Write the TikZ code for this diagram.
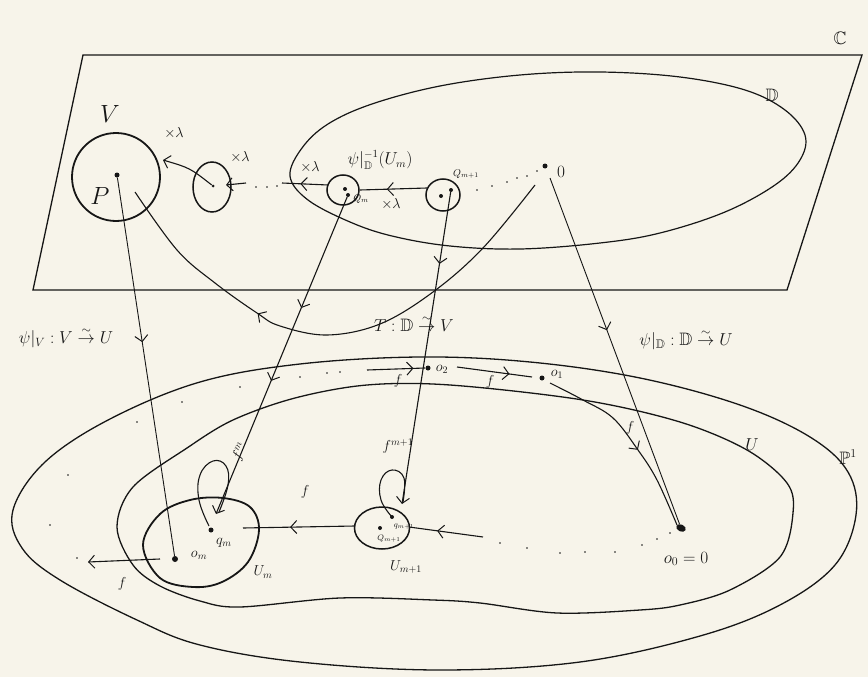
\documentclass[tikz,border=0pt]{standalone}
\usepackage{amssymb}
\usetikzlibrary{arrows.meta,decorations.markings,shapes.geometric}
\definecolor{paper}{RGB}{247,244,234}
\definecolor{ink}{RGB}{22,22,22}
\newcommand{\isoto}{\stackrel{\sim}{\to}}
\tikzset{
  barb/.tip={Straight Barb[length=6pt,width=13pt,line width=1pt]},
  cur/.style={draw=ink, line width=1.1pt},
  thk/.style={draw=ink, line width=1.8pt},
  midarrow/.style={postaction={decorate, decoration={markings, mark=at position #1 with {\arrow{barb}}}}},
  dotpt/.style={circle, fill=ink, inner sep=0pt, minimum size=5pt},
  tinypt/.style={circle, fill=ink, inner sep=0pt, minimum size=1.8pt},
  lab/.style={text=ink, inner sep=1pt, font=\fontsize{18}{20}\selectfont},
  big/.style={text=ink, inner sep=1pt, font=\fontsize{26}{28}\selectfont},
  mlab/.style={text=ink, inner sep=1pt, font=\fontsize{14}{16}\selectfont},
  slab/.style={text=ink, inner sep=1pt, font=\fontsize{10}{12}\selectfont},
}
\begin{document}
\begin{tikzpicture}[x=1pt,y=-1pt]
\fill[paper] (0,0) rectangle (868,677);
\useasboundingbox (0,0) rectangle (868,677);

% ---------- plane C ----------
\draw[cur, line width=1.3pt] (83,55) -- (862,55) -- (787,290) -- (33,290) -- cycle;
\node[lab] (Clab) at (840,38) {$\mathbb{C}$};

% ellipse D
\draw[cur, line width=1.2pt] plot[smooth cycle, tension=0.6] coordinates {
 (290,176) (302,148) (328,124) (372,104) (440,86) (520,75) (600,72) (680,77)
 (745,90) (785,110) (805,135) (800,160) (775,185) (725,212) (660,233) (600,243)
 (520,249) (450,246) (392,236) (350,222) (308,200)};
\node[lab] (Dlab) at (772,95) {$\mathbb{D}$};

% V and P
\node[draw=ink, line width=1.8pt, circle, minimum size=88pt, inner sep=0pt] (V) at (116,177) {};
\node[big] (Vlab) at (110,114) {$V$};
\node[dotpt] (P) at (117,175) {};
\node[big] (Plab) at (100,196) {$P$};

% small circle
\node[draw=ink, line width=1.5pt, ellipse, minimum width=38pt, minimum height=50pt, inner sep=0pt] (S) at (212,187) {};
\node[tinypt, minimum size=3pt] (s) at (213,186) {};
\coordinate (Vin) at (163,160);
\draw[cur, -{barb}] (s) .. controls (190,168) .. (Vin);
\node[mlab] (x1) at (174,133) {$\times\lambda$};

\coordinate (a1) at (246,183);
\coordinate (a2) at (226,185);
\draw[cur, -{barb}] (a1) -- (a2);
\node[mlab] (x2) at (240,157) {$\times\lambda$};
\node[tinypt] (d1) at (256,187) {};
\node[tinypt] (d2) at (267,187) {};
\node[tinypt] (d3) at (277,186) {};

% Q_m circle
\node[draw=ink, line width=1.5pt, ellipse, minimum width=32pt, minimum height=30pt, inner sep=0pt] (Qm) at (343,190) {};
\node[dotpt, minimum size=4pt] (qa) at (345,189) {};
\node[dotpt, minimum size=4pt] (Qmpt) at (348,195) {};
\node[slab] (Qmlab) at (361,199) {$Q_m$};
\node[mlab, font=\fontsize{16}{18}\selectfont] (psiinv) at (380,160) {$\psi|_{\mathbb{D}}^{-1}(U_m)$};
\coordinate (b1) at (328,185);
\coordinate (b2) at (282,183);
\draw[cur, midarrow=0.6] (b1) -- (b2);
\node[mlab] (x3) at (310,167) {$\times\lambda$};

% Q_{m+1} circle
\node[draw=ink, line width=1.5pt, ellipse, minimum width=34pt, minimum height=32pt, inner sep=0pt] (Qn) at (443,195) {};
\node[dotpt, minimum size=4pt] (qb) at (441,196) {};
\node[dotpt, minimum size=4pt] (Qnpt) at (451,190) {};
\node[slab] (Qnlab) at (466,174) {$Q_{m+1}$};
\coordinate (c1) at (427,188);
\coordinate (c2) at (360,190);
\draw[cur, midarrow=0.6] (c1) -- (c2);
\node[mlab] (x4) at (391,204) {$\times\lambda$};

% dotted toward 0
\foreach \p [count=\i] in {(477,190),(492,186),(507,182),(517,178),(527,176),(537,171)}
  \node[tinypt] (e\i) at \p {};
\node[dotpt] (zero) at (545,166) {};
\node[lab] (zerolab) at (561,172) {$0$};

% ---------- P^1 ----------
\draw[cur, line width=1.3pt] plot[smooth cycle, tension=0.6] coordinates {
 (13,510) (45,462) (110,419) (200,382) (300,364) (420,357) (530,362) (640,378)
 (740,405) (810,437) (848,472) (856,515) (835,565) (780,605) (700,636) (580,662)
 (440,670) (300,662) (200,645) (137,620) (60,580) (22,548)};
\node[lab] (P1lab) at (848,457) {$\mathbb{P}^1$};

% U
\draw[cur, line width=1.3pt] plot[smooth cycle, tension=0.55] coordinates {
 (793,513) (780,557) (730,590) (680,605) (640,610) (557,613) (480,603) (433,600)
 (340,598) (240,607) (200,601) (160,586) (133,565) (117,527) (133,487) (187,448)
 (233,420) (295,398) (367,385) (450,385) (583,400) (680,422) (747,450) (787,483)};
\node[lab] (Ulab) at (752,445) {$U$};

% U_m
\draw[thk] plot[smooth cycle, tension=0.6] coordinates {
 (143,545) (160,514) (190,500) (223,498) (250,507) (259,530) (248,562) (222,582)
 (193,587) (160,578)};
\node[mlab] (Umlab) at (263,572) {$U_m$};
\node[dotpt, minimum size=6pt] (om) at (175,559) {};
\node[mlab] (omlab) at (199,555) {$o_m$};
\node[dotpt] (qm) at (211,530) {};
\node[mlab] (qmlab) at (224,543) {$q_m$};

% U_{m+1}
\node[draw=ink, line width=1.5pt, ellipse, minimum width=55pt, minimum height=42pt, inner sep=0pt] (Un) at (382,528) {};
\node[mlab] (Unlab) at (406,567) {$U_{m+1}$};
\node[dotpt, minimum size=4pt] (Qnb) at (380,528) {};
\node[slab, font=\fontsize{8}{9}\selectfont] (Qnblab) at (389,539) {$Q_{m+1}$};
\node[dotpt, minimum size=4pt] (qn) at (392,517) {};
\node[slab, font=\fontsize{8}{9}\selectfont] (qnlab) at (404,527) {$q_{m+1}$};

% loops
\draw[cur] plot[smooth, tension=0.7] coordinates {(209,526) (199,500) (200,475) (213,461) (226,466) (228,485) (219,512)};
\draw[cur] plot[smooth, tension=0.7] coordinates {(392,517) (381,500) (381,480) (392,470) (404,478) (403,502)};
\node[mlab, rotate=65] (fmlab) at (240,452) {$f^m$};
\node[mlab] (fnlab) at (398,446) {$f^{m+1}$};

% vertical maps
\coordinate (qmend) at (216,514);
\draw[cur, midarrow=0.35, midarrow=0.58, -{barb}] (Qmpt) -- (qmend);
\coordinate (qnend) at (402,504);
\draw[cur, midarrow=0.23, -{barb}] (Qnpt) -- (qnend);
\draw[cur, line width=0.9pt, midarrow=0.435] (P) -- (om);
\coordinate (zs) at (550,178);
\node[fill=ink, ellipse, minimum width=10pt, minimum height=7pt, inner sep=0pt, rotate=-25] (o0) at (681,528) {};
\draw[cur, line width=0.9pt, midarrow=0.44] (zs) -- (o0);

% T curve
\draw[cur, midarrow=0.66] plot[smooth, tension=0.6] coordinates {
 (535,185) (483,248) (433,292) (380,324) (327,335) (280,326) (257,313) (215,283) (177,250) (135,192)};
\node[lab] (Tlab) at (414,323) {$T:\mathbb{D}\isoto V$};
\node[lab] (psiV) at (66,338) {$\psi|_V:V\isoto U$};
\node[lab] (psiD) at (686,340) {$\psi|_{\mathbb{D}}:\mathbb{D}\isoto U$};

% orbit in P^1
\foreach \p [count=\i] in {(240,387),(182,402),(137,422),(68,475),(50,525),(77,558),(300,377),(327,373),(340,372)}
  \node[tinypt] (g\i) at \p {};
\coordinate (f2s) at (367,370);
\coordinate (f2e) at (425,368);
\node[dotpt] (o2) at (428,368) {};
\draw[cur, midarrow=0.8] (f2s) -- (f2e);
\node[mlab] (o2lab) at (442,369) {$o_2$};
\node[mlab] (f2lab) at (398,381) {$f$};
\node[dotpt] (o1) at (542,378) {};
\coordinate (f1s) at (457,367);
\coordinate (f1e) at (532,377);
\draw[cur, midarrow=0.7] (f1s) -- (f1e);
\node[mlab] (f1lab) at (490,382) {$f$};
\node[mlab] (o1lab) at (557,374) {$o_1$};
\draw[cur, midarrow=0.57] plot[smooth, tension=0.6] coordinates {(550,383) (583,400) (613,418) (638,450) (657,480) (677,525)};
\node[mlab] (f0lab) at (630,428) {$f$};
\node[lab] (o0lab) at (686,559) {$o_0=0$};

% f arrows at the bottom
\coordinate (h1) at (355,526);
\coordinate (h2) at (243,528);
\draw[cur, midarrow=0.58] (h1) -- (h2);
\node[mlab] (fh) at (305,492) {$f$};
\coordinate (k1) at (160,559);
\coordinate (k2) at (88,562);
\draw[cur, -{barb}] (k1) -- (k2);
\node[mlab] (fk) at (122,584) {$f$};
\coordinate (r1) at (483,537);
\coordinate (r2) at (409,527);
\draw[cur, midarrow=0.62] (r1) -- (r2);
\foreach \p [count=\i] in {(500,543),(527,548),(560,553),(585,552),(615,552),(642,545),(657,539),(670,533)}
  \node[tinypt] (w\i) at \p {};
\end{tikzpicture}
\end{document}
